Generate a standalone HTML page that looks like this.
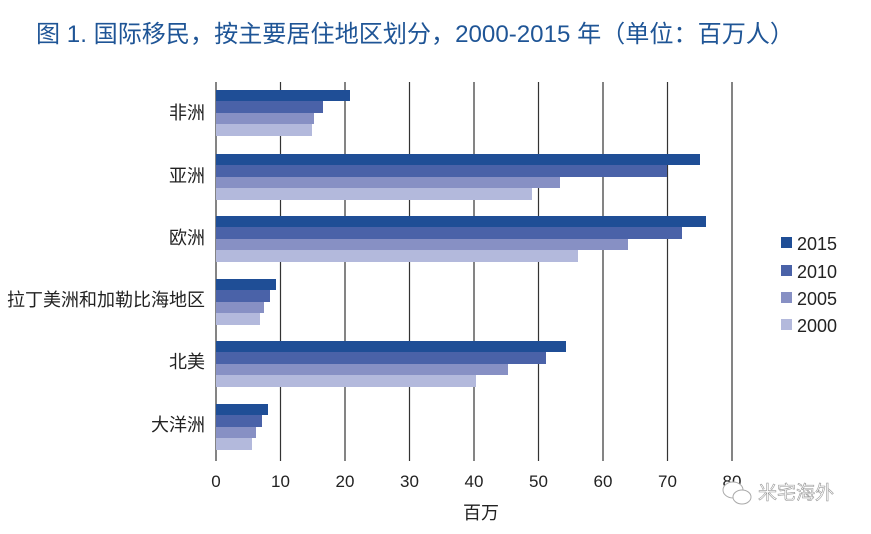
<!DOCTYPE html>
<html><head><meta charset="utf-8"><style>
body{margin:0;background:#fff;}
svg text{font-family:"Liberation Sans","Noto Sans CJK SC",sans-serif;}
</style></head><body>
<svg width="871" height="529" viewBox="0 0 871 529" xmlns="http://www.w3.org/2000/svg">
<rect width="871" height="529" fill="#fff"/>
<text x="36" y="42" font-size="24" fill="#1f5596" textLength="758" lengthAdjust="spacingAndGlyphs">图 1. 国际移民，按主要居住地区划分，2000-2015 年（单位：百万人）</text>
<g stroke="#333" stroke-width="1.2">
<line x1="216" y1="82" x2="216" y2="461"/>
<line x1="280.5" y1="82" x2="280.5" y2="461"/>
<line x1="345" y1="82" x2="345" y2="461"/>
<line x1="409.5" y1="82" x2="409.5" y2="461"/>
<line x1="474" y1="82" x2="474" y2="461"/>
<line x1="538.5" y1="82" x2="538.5" y2="461"/>
<line x1="603" y1="82" x2="603" y2="461"/>
<line x1="667.5" y1="82" x2="667.5" y2="461"/>
<line x1="732" y1="82" x2="732" y2="461"/>
</g>
<g>
<rect x="216" y="90" width="134" height="11" fill="#1f4e96"/>
<rect x="216" y="101" width="107" height="12" fill="#4a62a8"/>
<rect x="216" y="113" width="98" height="11" fill="#8790c4"/>
<rect x="216" y="124" width="96" height="12" fill="#b3b9dc"/>
<rect x="216" y="154" width="484" height="11" fill="#1f4e96"/>
<rect x="216" y="165" width="451" height="12" fill="#4a62a8"/>
<rect x="216" y="177" width="344" height="11" fill="#8790c4"/>
<rect x="216" y="188" width="316" height="12" fill="#b3b9dc"/>
<rect x="216" y="216" width="490" height="11" fill="#1f4e96"/>
<rect x="216" y="227" width="466" height="12" fill="#4a62a8"/>
<rect x="216" y="239" width="412" height="11" fill="#8790c4"/>
<rect x="216" y="250" width="362" height="12" fill="#b3b9dc"/>
<rect x="216" y="279" width="60" height="11" fill="#1f4e96"/>
<rect x="216" y="290" width="54" height="12" fill="#4a62a8"/>
<rect x="216" y="302" width="48" height="11" fill="#8790c4"/>
<rect x="216" y="313" width="44" height="12" fill="#b3b9dc"/>
<rect x="216" y="341" width="350" height="11" fill="#1f4e96"/>
<rect x="216" y="352" width="330" height="12" fill="#4a62a8"/>
<rect x="216" y="364" width="292" height="11" fill="#8790c4"/>
<rect x="216" y="375" width="260" height="12" fill="#b3b9dc"/>
<rect x="216" y="404" width="52" height="11" fill="#1f4e96"/>
<rect x="216" y="415" width="46" height="12" fill="#4a62a8"/>
<rect x="216" y="427" width="40" height="11" fill="#8790c4"/>
<rect x="216" y="438" width="36" height="12" fill="#b3b9dc"/>
</g>
<g font-size="18" fill="#222" text-anchor="end">
<text x="205" y="119">非洲</text>
<text x="205" y="182">亚洲</text>
<text x="205" y="244">欧洲</text>
<text x="205" y="306">拉丁美洲和加勒比海地区</text>
<text x="205" y="368">北美</text>
<text x="205" y="431">大洋洲</text>
</g>
<g font-size="17" fill="#222" text-anchor="middle">
<text x="216" y="487">0</text>
<text x="280.5" y="487">10</text>
<text x="345" y="487">20</text>
<text x="409.5" y="487">30</text>
<text x="474" y="487">40</text>
<text x="538.5" y="487">50</text>
<text x="603" y="487">60</text>
<text x="667.5" y="487">70</text>
<text x="732" y="487">80</text>
<text x="481" y="519" font-size="18">百万</text>
</g>
<g font-size="18" fill="#222">
<rect x="781" y="237" width="11" height="11" fill="#1f4e96"/><text x="797" y="250">2015</text>
<rect x="781" y="265" width="11" height="11" fill="#4a62a8"/><text x="797" y="278">2010</text>
<rect x="781" y="292" width="11" height="11" fill="#8790c4"/><text x="797" y="305">2005</text>
<rect x="781" y="319" width="11" height="11" fill="#b3b9dc"/><text x="797" y="332">2000</text>
</g>
<g fill="#fff" stroke="#aaa" stroke-width="1">
<ellipse cx="733" cy="490" rx="10" ry="8"/>
<ellipse cx="742" cy="497" rx="9" ry="7"/>
</g>
<text x="758" y="499" font-size="19" fill="#fff" stroke="#999" stroke-width="0.6">米宅海外</text>
</svg>
</body></html>
